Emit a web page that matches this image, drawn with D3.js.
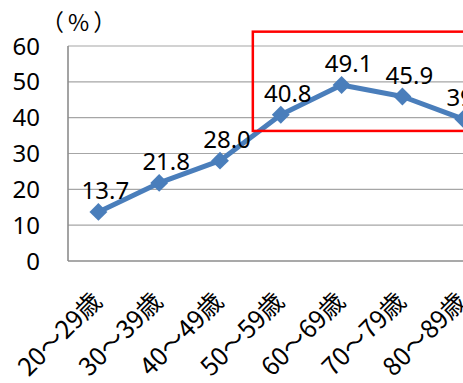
<!DOCTYPE html>
<html>
<head>
<meta charset="utf-8">
<script src="https://cdn.jsdelivr.net/npm/d3@7"></script>
<style>
  body { margin: 0; background: #fff; }
  svg { display: block; }
  .num { font-family: "Noto Sans", "Lato", sans-serif; fill: #000; }
  .cat { font-family: "Noto Sans CJK JP", sans-serif; fill: #000; }
</style>
</head>
<body>
<svg width="463" height="383"></svg>
<script>
// data
var categories = ["20〜29歳", "30〜39歳", "40〜49歳", "50〜59歳", "60〜69歳", "70〜79歳", "80〜89歳"];
var values = [13.7, 21.8, 28.0, 40.8, 49.1, 45.9, 39.6];
var labels = ["13.7", "21.8", "28.0", "40.8", "49.1", "45.9", "39.6"];
var yTicks = [0, 10, 20, 30, 40, 50, 60];
// highlighted region: from 50〜59歳 onwards, values ~36 to ~64
var highlightFrom = "50〜59歳", highlightLow = 36.3, highlightHigh = 64;

var svg = d3.select("svg"),
    margin = { top: 46, left: 68 },
    step = 60.8,
    plotW = step * categories.length,
    plotH = 215;

var g = svg.append("g")
    .attr("transform", "translate(" + margin.left + "," + margin.top + ")");

var x = d3.scalePoint().domain(categories).range([0, plotW]).padding(0.5);
var y = d3.scaleLinear().domain([0, 60]).range([plotH, 0]);

// gridlines
g.selectAll(".grid")
    .data(yTicks)
    .enter().append("line")
    .attr("class", "grid")
    .attr("x1", 0).attr("x2", plotW)
    .attr("y1", function (d) { return y(d); })
    .attr("y2", function (d) { return y(d); })
    .attr("stroke", function (d) { return d === 0 ? "#8c8c8c" : "#a6a6a6"; })
    .attr("stroke-width", function (d) { return d === 0 ? 1.6 : 1.2; });

// left axis line
g.append("line")
    .attr("x1", 0).attr("x2", 0)
    .attr("y1", y(60)).attr("y2", y(0))
    .attr("stroke", "#8c8c8c")
    .attr("stroke-width", 1.6);

// y tick labels
g.selectAll(".ytick")
    .data(yTicks)
    .enter().append("text")
    .attr("class", "num")
    .attr("x", -28)
    .attr("y", function (d) { return y(d); })
    .attr("dy", "0.36em")
    .attr("text-anchor", "end")
    .style("font-size", "24px")
    .text(function (d) { return d; });

// unit
svg.append("text")
    .attr("class", "cat")
    .attr("x", 41)
    .attr("y", 31)
    .style("font-size", "23px")
    .style("letter-spacing", "4px")
    .text("（%）");

// x labels
g.selectAll(".xtick")
    .data(categories)
    .enter().append("text")
    .attr("class", "cat")
    .attr("text-anchor", "end")
    .attr("transform", function (d) { return "translate(" + (x(d) + 5) + "," + (plotH + 42) + ") rotate(-45)"; })
    .style("font-size", "25px")
    .text(function (d) { return d; });

// line
var line = d3.line()
    .x(function (d, i) { return x(categories[i]); })
    .y(function (d) { return y(d); });

g.append("path")
    .datum(values)
    .attr("fill", "none")
    .attr("stroke", "#4a7ebb")
    .attr("stroke-width", 5)
    .attr("stroke-linejoin", "round")
    .attr("d", line);

// markers
g.selectAll(".dot")
    .data(values)
    .enter().append("path")
    .attr("class", "dot")
    .attr("d", d3.symbol().type(d3.symbolSquare).size(160))
    .attr("transform", function (d, i) { return "translate(" + x(categories[i]) + "," + y(d) + ") rotate(45)"; })
    .attr("fill", "#4a7ebb");

// data labels
g.selectAll(".lbl")
    .data(values)
    .enter().append("text")
    .attr("class", "num")
    .attr("x", function (d, i) { return x(categories[i]) + 7; })
    .attr("y", function (d) { return y(d) - 13; })
    .attr("text-anchor", "middle")
    .style("font-size", "24px")
    .text(function (d, i) { return labels[i]; });

// red highlight box
g.append("rect")
    .attr("x", x(highlightFrom) - step * 0.46)
    .attr("y", y(highlightHigh))
    .attr("width", plotW)
    .attr("height", y(highlightLow) - y(highlightHigh))
    .attr("fill", "none")
    .attr("stroke", "#ff0000")
    .attr("stroke-width", 2.5);
</script>
</body>
</html>
